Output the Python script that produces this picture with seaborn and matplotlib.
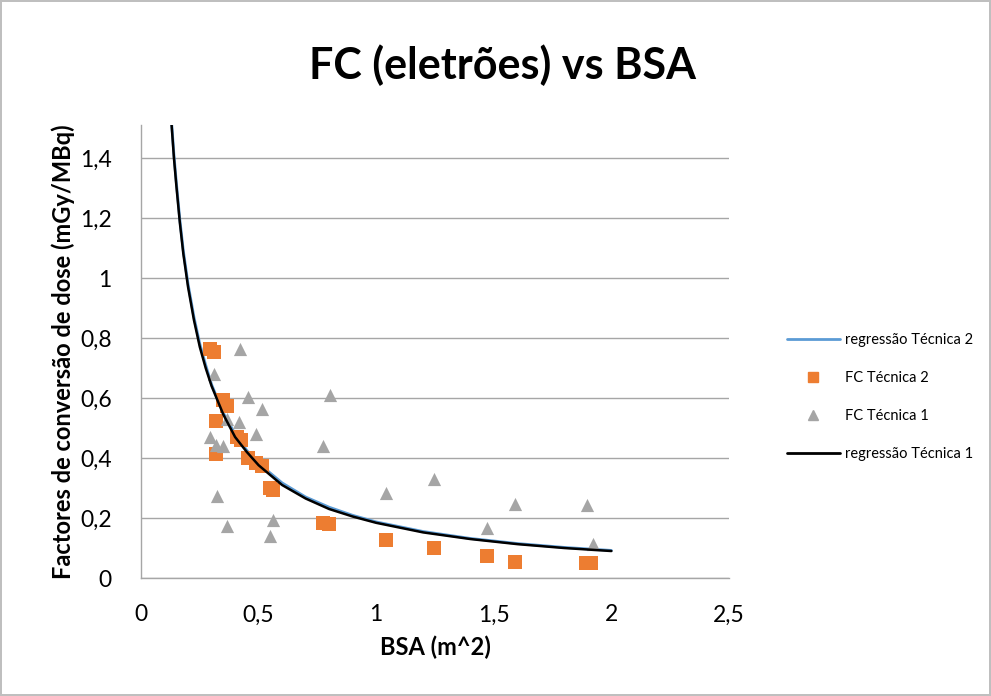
import numpy as np
import pandas as pd
import matplotlib
matplotlib.use("Agg")
import matplotlib.pyplot as plt
import seaborn as sns
from matplotlib.lines import Line2D
from matplotlib.ticker import FuncFormatter

# ---- data ----
# FC Tecnica 2 (orange squares)
bsa_t2 = [0.295, 0.31, 0.35, 0.365, 0.32, 0.41, 0.425, 0.32, 0.455, 0.49, 0.515,
          0.55, 0.56, 0.775, 0.80, 1.04, 1.245, 1.47, 1.59, 1.89, 1.915]
fc_t2 = [0.765, 0.755, 0.595, 0.575, 0.525, 0.47, 0.46, 0.415, 0.40, 0.385, 0.375,
         0.30, 0.295, 0.185, 0.18, 0.128, 0.10, 0.075, 0.052, 0.05, 0.05]

# FC Tecnica 1 (grey triangles)
bsa_t1 = [0.42, 0.31, 0.455, 0.515, 0.365, 0.415, 0.49, 0.295, 0.32, 0.35,
          0.325, 0.365, 0.56, 0.55, 0.805, 0.775, 1.04, 1.245, 1.47, 1.59, 1.895, 1.92]
fc_t1 = [0.765, 0.68, 0.605, 0.565, 0.53, 0.52, 0.48, 0.47, 0.445, 0.44,
         0.275, 0.175, 0.195, 0.14, 0.61, 0.44, 0.285, 0.33, 0.168, 0.246, 0.243, 0.112]

# regression curves
reg_x = [0.12, 0.13, 0.14, 0.15, 0.165, 0.18, 0.20, 0.225, 0.25, 0.275, 0.30, 0.35,
         0.40, 0.45, 0.50, 0.60, 0.70, 0.80, 0.90, 1.00, 1.20, 1.40, 1.60, 1.80, 2.00]
reg_t2 = [1.65, 1.52, 1.41, 1.32, 1.195, 1.09, 0.98, 0.87, 0.78, 0.71, 0.645, 0.55,
          0.48, 0.425, 0.382, 0.317, 0.27, 0.236, 0.209, 0.187, 0.155, 0.132, 0.115, 0.102, 0.092]
reg_t1 = [1.64, 1.51, 1.40, 1.31, 1.185, 1.08, 0.97, 0.86, 0.77, 0.70, 0.64, 0.545,
          0.47, 0.42, 0.376, 0.31, 0.265, 0.23, 0.205, 0.184, 0.152, 0.130, 0.113, 0.100, 0.090]

orange = "#ED7D31"
grey = "#A5A5A5"
blue = "#5B9BD5"

sns.set_style("white")
plt.rcParams['font.family'] = ['Lato', 'DejaVu Sans']
plt.rcParams['text.color'] = 'black'
plt.rcParams['axes.labelcolor'] = 'black'
plt.rcParams['xtick.color'] = 'black'
plt.rcParams['ytick.color'] = 'black'

fig = plt.figure(figsize=(9.91, 6.96), dpi=100)
fig.patch.set_edgecolor("#bfbfbf")
fig.patch.set_linewidth(1.5)
ax = fig.add_axes([0.1423, 0.1695, 0.5933, 0.6509])

df_reg = pd.DataFrame({"x": reg_x, "t2": reg_t2, "t1": reg_t1})
sns.lineplot(data=df_reg, x="x", y="t2", ax=ax, color=blue, lw=2, estimator=None, sort=False)
sns.scatterplot(x=bsa_t2, y=fc_t2, ax=ax, marker="s", s=115, color=orange, linewidth=0, zorder=3)
sns.scatterplot(x=bsa_t1, y=fc_t1, ax=ax, marker="^", s=90, color=grey, linewidth=0, zorder=3)
sns.lineplot(data=df_reg, x="x", y="t1", ax=ax, color="black", lw=1.8, estimator=None, sort=False, zorder=4)

ax.set_xlim(0, 2.5)
ax.set_ylim(0, 1.51)
ax.set_xticks([0, 0.5, 1, 1.5, 2, 2.5])
ax.set_yticks([0, 0.2, 0.4, 0.6, 0.8, 1.0, 1.2, 1.4])
fmt = FuncFormatter(lambda v, p: ("%g" % round(v, 2)).replace(".", ","))
ax.xaxis.set_major_formatter(fmt)
ax.yaxis.set_major_formatter(fmt)
ax.grid(axis="y", color="#a6a6a6", lw=1)
ax.grid(axis="x", visible=False)
for side in ["top", "right"]:
    ax.spines[side].set_visible(False)
for side in ["left", "bottom"]:
    ax.spines[side].set_color("#a6a6a6")
    ax.spines[side].set_linewidth(1)
ax.tick_params(axis="both", which="major", length=7, width=1, color="#a6a6a6",
               labelsize=16.5, labelcolor="black", direction="out")
ax.tick_params(axis="x", pad=12)
ax.tick_params(axis="y", pad=14)
ax.set_axisbelow(True)

ax.set_xlabel("BSA (m^2)", fontsize=17, fontweight="bold", labelpad=7)
ax.set_ylabel("Factores de conversão de dose (mGy/MBq)", fontsize=17, fontweight="bold", labelpad=4)
fig.text(0.507, 0.907, "FC (eletrões) vs BSA", ha="center", va="center", fontsize=31, fontweight="bold")

handles = [
    Line2D([0], [0], color=blue, lw=2),
    Line2D([0], [0], color=orange, marker="s", ls="none", markersize=7),
    Line2D([0], [0], color=grey, marker="^", ls="none", markersize=7),
    Line2D([0], [0], color="black", lw=2),
]
labels = ["regressão Técnica 2", "FC Técnica 2", "FC Técnica 1", "regressão Técnica 1"]
fig.legend(handles, labels, loc="center left", bbox_to_anchor=(0.781, 0.43), frameon=False,
           fontsize=10.5, handlelength=3.6, labelspacing=1.65, handletextpad=0.4)

fig.savefig("out.png", dpi=100)
